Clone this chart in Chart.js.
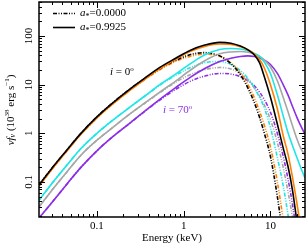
<!DOCTYPE html>
<html>
<head>
<meta charset="utf-8">
<script src="https://cdn.jsdelivr.net/npm/chart.js@4.4.1/dist/chart.umd.min.js"></script>
<style>
  html, body { margin: 0; padding: 0; background: #fff; }
  #wrap { width: 307px; height: 245px; position: relative; }
</style>
</head>
<body>
<div id="wrap"><canvas id="spec"></canvas></div>
<script>
// energies (keV) shared by all the spectra
const energies = [0.0215, 0.03, 0.045, 0.065, 0.1, 0.15, 0.24, 0.35, 0.53, 0.8, 1.2, 1.75, 2.6, 3.5, 4.5, 5.5, 6.5, 7.5, 8.5, 10, 12, 14, 16, 18, 20, 22, 25];

// nu f_nu (10^38 erg/s), spin a* = 0.9925 (solid), inclination 0 deg ... 70 deg
const incl1_spinHigh = [0.0865, 0.187, 0.45, 0.985, 2.18, 4.14, 8.1, 13.3, 22.6, 34.5, 51, 65, 74, 71, 62, 52, 41, 28, 14.5, 5.5, 1.55, 0.5, 0.2, 0.065, 0.017, 0.005, 0.001];
const incl2_spinHigh = [0.082, 0.177, 0.43, 0.94, 2.07, 3.92, 7.65, 12.6, 21.4, 32.8, 48.5, 61, 68.5, 67, 60, 52, 43, 33, 22, 10, 3.2, 0.9, 0.36, 0.12, 0.04, 0.013, 0.002];
const incl3_spinHigh = [0.042, 0.091, 0.22, 0.48, 1.0, 1.82, 3.45, 5.7, 10, 16.3, 27, 41, 53, 55.5, 54, 50, 44, 38, 29, 17, 6.2, 2.3, 1.0, 0.55, 0.33, 0.21, 0.12];
const incl4_spinHigh = [0.0305, 0.066, 0.16, 0.35, 0.72, 1.29, 2.5, 4.1, 7.0, 11.7, 20, 31, 43, 47, 48, 46.5, 43, 38, 32, 23, 12, 5.5, 2.7, 1.4, 0.8, 0.52, 0.35];
const incl5_spinHigh = [0.018, 0.037, 0.09, 0.197, 0.436, 0.83, 1.62, 2.8, 5.0, 8.6, 14.3, 21.5, 30, 35, 38, 39, 38, 35.5, 32, 26, 17, 10, 6, 3.5, 2.2, 1.5, 0.95];

// spin a* = 0 (dash-dot-dot)
const incl1_spinZero = [0.0865, 0.187, 0.45, 0.985, 2.18, 4.14, 8.1, 13.0, 21.2, 31.3, 41.5, 45.5, 39, 27, 16, 8.5, 4.3, 2.1, 1.0, 0.33, 0.05, 0.007, 0.001, 0.0002, 0.00004, 0.00001, 0.000001];
const incl2_spinZero = [0.082, 0.177, 0.43, 0.94, 2.07, 3.92, 7.65, 12.4, 20.2, 29.8, 38.5, 42.5, 38.5, 28, 17.5, 10, 5.4, 2.8, 1.45, 0.52, 0.1, 0.017, 0.003, 0.0005, 0.0001, 0.00002, 0.000003];
const incl3_spinZero = [0.042, 0.091, 0.22, 0.48, 1.0, 1.82, 3.45, 5.65, 9.7, 15.4, 22.5, 28.2, 30, 26, 19.5, 13.5, 8.7, 5.4, 3.3, 1.3, 0.32, 0.085, 0.02, 0.005, 0.0011, 0.00025, 0.00003];
const incl4_spinZero = [0.0305, 0.066, 0.16, 0.35, 0.72, 1.29, 2.5, 4.05, 6.8, 11.1, 16.2, 20.3, 22.5, 21, 17, 12.5, 8.6, 5.8, 3.8, 1.9, 0.65, 0.2, 0.06, 0.018, 0.005, 0.0014, 0.0002];
const incl5_spinZero = [0.018, 0.037, 0.09, 0.197, 0.436, 0.83, 1.62, 2.75, 4.8, 7.9, 11.8, 15, 17, 16.5, 14.5, 12, 9.5, 7, 4.9, 2.7, 1.0, 0.34, 0.11, 0.033, 0.009, 0.0025, 0.0004];

const xTickLabels = ['0.1', '1', '10'];
const yTickLabels = ['0.1', '1', '10', '100'];

const colours = ['#000000', '#ff8000', '#1fe6e6', '#a6a6a6', '#8c2ee6'];
const dashDotDot = [4, 1.5, 1, 1.5, 1, 1.5];
const serif = '"Liberation Serif", "Times New Roman", serif';

const solidSets = [incl1_spinHigh, incl2_spinHigh, incl3_spinHigh, incl4_spinHigh, incl5_spinHigh];
const dashSets = [incl1_spinZero, incl2_spinZero, incl3_spinZero, incl4_spinZero, incl5_spinZero];

function toPoints(vals) {
    return energies.map((e, i) => ({ x: e, y: vals[i] }));
}

const datasets = [];
solidSets.forEach((vals, i) => {
    datasets.push({
        data: toPoints(vals),
        borderColor: colours[i],
        borderWidth: 1.6,
        pointRadius: 0,
        cubicInterpolationMode: 'monotone',
        fill: false
    });
});
dashSets.forEach((vals, i) => {
    datasets.push({
        data: toPoints(vals),
        borderColor: colours[i],
        borderWidth: 1.6,
        borderDash: dashDotDot,
        pointRadius: 0,
        cubicInterpolationMode: 'monotone',
        fill: false
    });
});

// text made of pieces (italic, sub/superscript)
function richWidth(ctx, parts) {
    let w = 0;
    parts.forEach(p => {
        ctx.font = (p.it ? 'italic ' : '') + (p.size || 11) + 'px ' + serif;
        w += ctx.measureText(p.t).width;
    });
    return w;
}
function drawRich(ctx, parts, x, y, align) {
    let cx = x;
    if (align === 'center') cx = x - richWidth(ctx, parts) / 2;
    ctx.textAlign = 'left';
    ctx.textBaseline = 'middle';
    parts.forEach(p => {
        ctx.font = (p.it ? 'italic ' : '') + (p.size || 11) + 'px ' + serif;
        ctx.fillText(p.t, cx, y + (p.dy || 0));
        cx += ctx.measureText(p.t).width;
    });
}

const framePlugin = {
    id: 'frame',
    afterDraw(chart) {
        const ctx = chart.ctx;
        const a = chart.chartArea;
        const xs = chart.scales.x, ys = chart.scales.y;
        ctx.save();
        ctx.strokeStyle = '#000';
        ctx.fillStyle = '#000';

        // ticks on all four sides, pointing in
        ctx.lineWidth = 1;
        ctx.beginPath();
        for (let k = -2; k <= 2; k++) {
            for (let m = 1; m <= 9; m++) {
                const v = m * Math.pow(10, k);
                const len = m === 1 ? 6 : 3;
                if (v >= xs.min && v <= xs.max) {
                    const px = Math.round(xs.getPixelForValue(v)) + 0.5;
                    ctx.moveTo(px, a.bottom); ctx.lineTo(px, a.bottom - len);
                    ctx.moveTo(px, a.top); ctx.lineTo(px, a.top + len);
                }
                if (v >= ys.min && v <= ys.max) {
                    const py = Math.round(ys.getPixelForValue(v)) + 0.5;
                    ctx.moveTo(a.left, py); ctx.lineTo(a.left + len, py);
                    ctx.moveTo(a.right, py); ctx.lineTo(a.right - len, py);
                }
            }
        }
        ctx.stroke();

        ctx.lineWidth = 1.5;
        ctx.strokeRect(a.left, a.top, a.right - a.left, a.bottom - a.top);

        // tick labels
        ctx.font = '11px ' + serif;
        ctx.textAlign = 'center';
        ctx.textBaseline = 'middle';
        xTickLabels.forEach(t => {
            ctx.fillText(t, xs.getPixelForValue(parseFloat(t)), a.bottom + 9);
        });
        yTickLabels.forEach(t => {
            ctx.save();
            ctx.translate(a.left - 10, ys.getPixelForValue(parseFloat(t)));
            ctx.rotate(-Math.PI / 2);
            ctx.fillText(t, 0, 0);
            ctx.restore();
        });

        // axis titles
        drawRich(ctx, [{ t: 'Energy (keV)' }], (a.left + a.right) / 2, a.bottom + 21, 'center');
        ctx.save();
        ctx.translate(11, 110);
        ctx.rotate(-Math.PI / 2);
        drawRich(ctx, [
            { t: 'ν', it: true }, { t: 'f', it: true }, { t: 'ν', it: true, size: 8, dy: 2 },
            { t: ' (10' }, { t: '38', size: 7, dy: -4 }, { t: ' erg s' }, { t: '−1', size: 7, dy: -4 }, { t: ')' }
        ], 0, 0, 'center');
        ctx.restore();

        // legend
        ctx.lineWidth = 1.6;
        ctx.setLineDash(dashDotDot);
        ctx.beginPath(); ctx.moveTo(53, 13.5); ctx.lineTo(75, 13.5); ctx.stroke();
        ctx.setLineDash([]);
        ctx.beginPath(); ctx.moveTo(53, 27.5); ctx.lineTo(75, 27.5); ctx.stroke();
        drawRich(ctx, [{ t: 'a', it: true }, { t: '*', size: 8, dy: 3 }, { t: '=0.0000' }], 80, 13.5);
        drawRich(ctx, [{ t: 'a', it: true }, { t: '*', size: 8, dy: 3 }, { t: '=0.9925' }], 80, 27.5);

        // inclination notes
        ctx.fillStyle = colours[0];
        drawRich(ctx, [{ t: 'i', it: true }, { t: ' = 0' }, { t: 'o', size: 7, dy: -3 }], 110, 72);
        ctx.fillStyle = colours[4];
        drawRich(ctx, [{ t: 'i', it: true }, { t: ' = 70' }, { t: 'o', size: 7, dy: -3 }], 163, 110);
        ctx.restore();
    }
};

new Chart(document.getElementById('spec'), {
    type: 'line',
    data: { datasets },
    options: {
        responsive: true,
        maintainAspectRatio: false,
        animation: false,
        layout: { padding: { left: 39, top: 2, right: 2, bottom: 28 } },
        scales: {
            x: { type: 'logarithmic', min: 0.0215, max: 25, display: false },
            y: { type: 'logarithmic', min: 0.019, max: 500, display: false }
        },
        plugins: {
            legend: { display: false },
            tooltip: { enabled: false }
        }
    },
    plugins: [framePlugin]
});
</script>
</body>
</html>
